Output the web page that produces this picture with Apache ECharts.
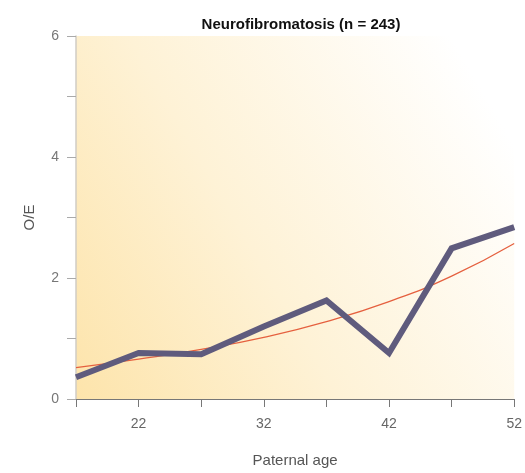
<!DOCTYPE html>
<html>
<head>
<meta charset="utf-8">
<script src="https://cdn.jsdelivr.net/npm/echarts@6/dist/echarts.min.js"></script>
<style>
	html, body { margin: 0; padding: 0; background: #fff; }
	#chart { width: 525px; height: 473px; }
</style>
</head>
<body>
<div id="chart"></div>
<script>
var ages = ['17', '22', '27', '32', '37', '42', '47', '52'];
var observed = [0.36, 0.76, 0.74, 1.2, 1.63, 0.76, 2.49, 2.84];
var fitted = [0.52, 0.66, 0.82, 1.02, 1.28, 1.61, 2.03, 2.57];

var chart = echarts.init(document.getElementById('chart'));
var font = 'Liberation Sans, Arial, sans-serif';

chart.setOption({
	animation: false,
	title: {
		text: 'Neurofibromatosis (n = 243)',
		left: 296,
		top: 12,
		textAlign: 'center',
		textStyle: { fontFamily: font, fontSize: 15, fontWeight: 'bold', color: '#111' }
	},
	grid: {
		left: 76, right: 8, top: 36, bottom: 66,
		show: true,
		borderWidth: 0,
		backgroundColor: new echarts.graphic.LinearGradient(0, 1, 1, 0.3, [
			{ offset: 0, color: '#fde4ab' },
			{ offset: 0.45, color: '#fef2d6' },
			{ offset: 1, color: '#ffffff' }
		])
	},
	xAxis: {
		type: 'category',
		data: ages,
		boundaryGap: false,
		name: 'Paternal age',
		nameLocation: 'middle',
		nameGap: 54,
		nameTextStyle: { fontFamily: font, fontSize: 15, color: '#555' },
		axisLine: { lineStyle: { color: '#777', width: 1 } },
		axisTick: { length: 8, interval: 0, lineStyle: { color: '#777' } },
		axisLabel: {
			interval: function (i) { return i % 2 === 1; },
			margin: 18,
			fontFamily: font, fontSize: 14, color: '#666'
		},
		splitLine: { show: false }
	},
	yAxis: {
		type: 'value',
		min: 0, max: 6, interval: 1,
		name: 'O/E',
		nameLocation: 'middle',
		nameGap: 39,
		nameTextStyle: { fontFamily: font, fontSize: 15, color: '#555' },
		axisLine: { show: true, lineStyle: { color: '#d0ccc4', width: 1.5 } },
		axisTick: { show: true, length: 9, lineStyle: { color: '#aaa' } },
		axisLabel: {
			formatter: function (v) { return v % 2 === 0 ? String(v) : ''; },
			margin: 17,
			fontFamily: font, fontSize: 14, color: '#777'
		},
		splitLine: { show: false }
	},
	series: [{
		type: 'line',
		data: fitted,
		smooth: true,
		symbol: 'none',
		lineStyle: { color: '#e5603f', width: 1.3 },
		z: 2
	}, {
		type: 'line',
		data: observed,
		symbol: 'none',
		lineStyle: { color: '#5f5b7d', width: 6, join: 'miter' },
		z: 3
	}]
});
</script>
</body>
</html>
